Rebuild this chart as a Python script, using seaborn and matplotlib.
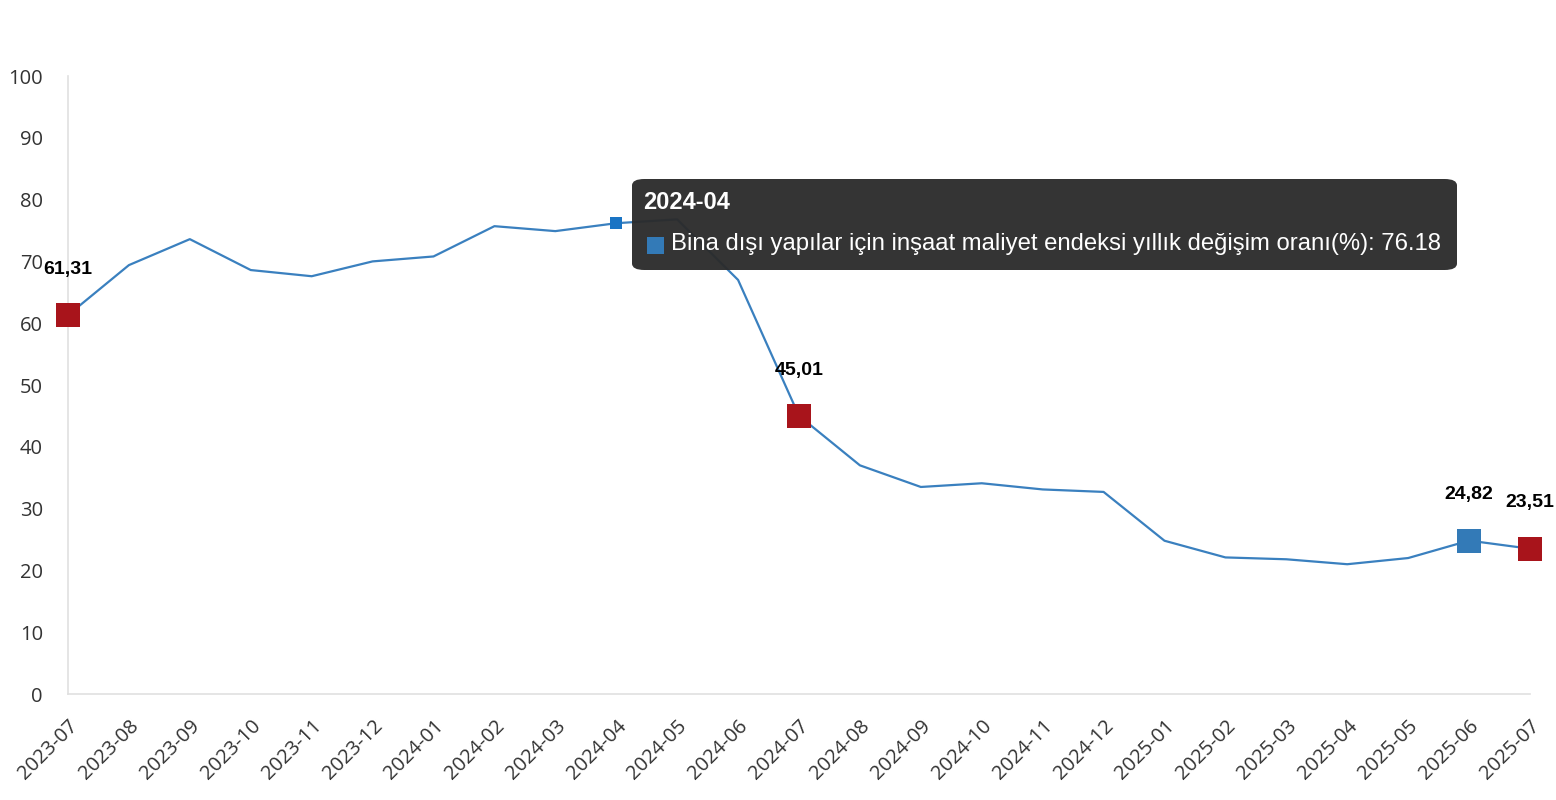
import matplotlib
matplotlib.use("Agg")
import matplotlib.pyplot as plt
import seaborn as sns
import pandas as pd
from matplotlib.patches import FancyBboxPatch

months = ["2023-07", "2023-08", "2023-09", "2023-10", "2023-11", "2023-12",
          "2024-01", "2024-02", "2024-03", "2024-04", "2024-05", "2024-06",
          "2024-07", "2024-08", "2024-09", "2024-10", "2024-11", "2024-12",
          "2025-01", "2025-02", "2025-03", "2025-04", "2025-05", "2025-06",
          "2025-07"]
values = [61.31, 69.4, 73.6, 68.6, 67.6, 70.0,
          70.8, 75.7, 74.9, 76.18, 76.8, 67.0,
          45.01, 37.0, 33.5, 34.1, 33.1, 32.7,
          24.8, 22.1, 21.8, 21.0, 22.0, 24.82,
          23.51]
red_points = ["2023-07", "2024-07", "2025-07"]
blue_points = ["2025-06"]
hover_point = "2024-04"
series_name = "Bina dışı yapılar için inşaat maliyet endeksi yıllık değişim oranı(%)"
yticks = [0, 10, 20, 30, 40, 50, 60, 70, 80, 90, 100]

df = pd.DataFrame({"month": months, "value": values})
df["x"] = range(len(df))

sns.set_theme(style="white")
plt.rcParams["font.family"] = ["Open Sans", "DejaVu Sans"]

fig = plt.figure(figsize=(15.56, 8.0), dpi=100)
ax = fig.add_axes([68 / 1556, 1 - 694 / 800, (1530 - 68) / 1556, (694 - 76) / 800])

line_color = "#3a80bf"
sns.lineplot(data=df, x="x", y="value", ax=ax, color=line_color, linewidth=1.6, zorder=2)

red = df[df["month"].isin(red_points)]
blue = df[df["month"].isin(blue_points)]
hov = df[df["month"] == hover_point]
ax.scatter(red["x"], red["value"], marker="s", s=300, color="#a8141b", zorder=4,
           linewidths=0, clip_on=False)
ax.scatter(blue["x"], blue["value"], marker="s", s=300, color="#337ab7", zorder=4,
           linewidths=0, clip_on=False)
ax.scatter(hov["x"], hov["value"], marker="s", s=75, color="#1a74c4", zorder=4,
           linewidths=0, clip_on=False)

for _, r in pd.concat([red, blue]).iterrows():
    ax.annotate(f"{r['value']:.2f}".replace(".", ","), (r["x"], r["value"]),
                xytext=(0, 33), textcoords="offset points", ha="center", va="center",
                fontsize=14, fontweight="bold", color="#000000",
                family=["Liberation Sans", "DejaVu Sans"], zorder=6, annotation_clip=False)

ax.set_xlim(0, len(df) - 1)
ax.set_ylim(0, 100)
ax.set_yticks(yticks)
ax.set_yticklabels([str(t) for t in yticks])
ax.set_xticks(df["x"])
ax.set_xticklabels(df["month"], rotation=45, ha="right", rotation_mode="anchor")
ax.tick_params(axis="both", labelsize=14.5, colors="#333333", length=0)
ax.tick_params(axis="y", pad=18)
ax.tick_params(axis="x", pad=16)
ax.set_xlabel("")
ax.set_ylabel("")
for s in ["top", "right"]:
    ax.spines[s].set_visible(False)
ax.spines["left"].set_color("#e0e0e0")
ax.spines["bottom"].set_color("#e0e0e0")
ax.spines["left"].set_linewidth(1.2)
ax.spines["bottom"].set_linewidth(1.2)
ax.grid(False)

# tooltip (figure pixel coordinates)
def fx(px):
    return px / 1556
def fy(py):
    return 1 - py / 800

box = FancyBboxPatch((fx(632), fy(270)), fx(1457) - fx(632), fy(179) - fy(270),
                     boxstyle="round,pad=0,rounding_size=0.008", transform=fig.transFigure,
                     facecolor="#2b2b2b", edgecolor="none", alpha=0.96, zorder=10)
fig.patches.append(box)
fig.text(fx(643), fy(203), hover_point, color="white", fontsize=17, fontweight="bold",
         family=["Liberation Sans", "DejaVu Sans"], va="center", ha="left", zorder=11)
fig.patches.append(plt.Rectangle((fx(647), fy(254)), fx(17), 17 / 800, transform=fig.transFigure,
                                 facecolor="#337ab7", edgecolor="none", zorder=11))
fig.text(fx(671), fy(244), f"{series_name}: {values[months.index(hover_point)]:.2f}",
         color="white", fontsize=17.2, family=["Liberation Sans", "DejaVu Sans"],
         va="center", ha="left", zorder=11)

fig.savefig("out.png", dpi=100)
